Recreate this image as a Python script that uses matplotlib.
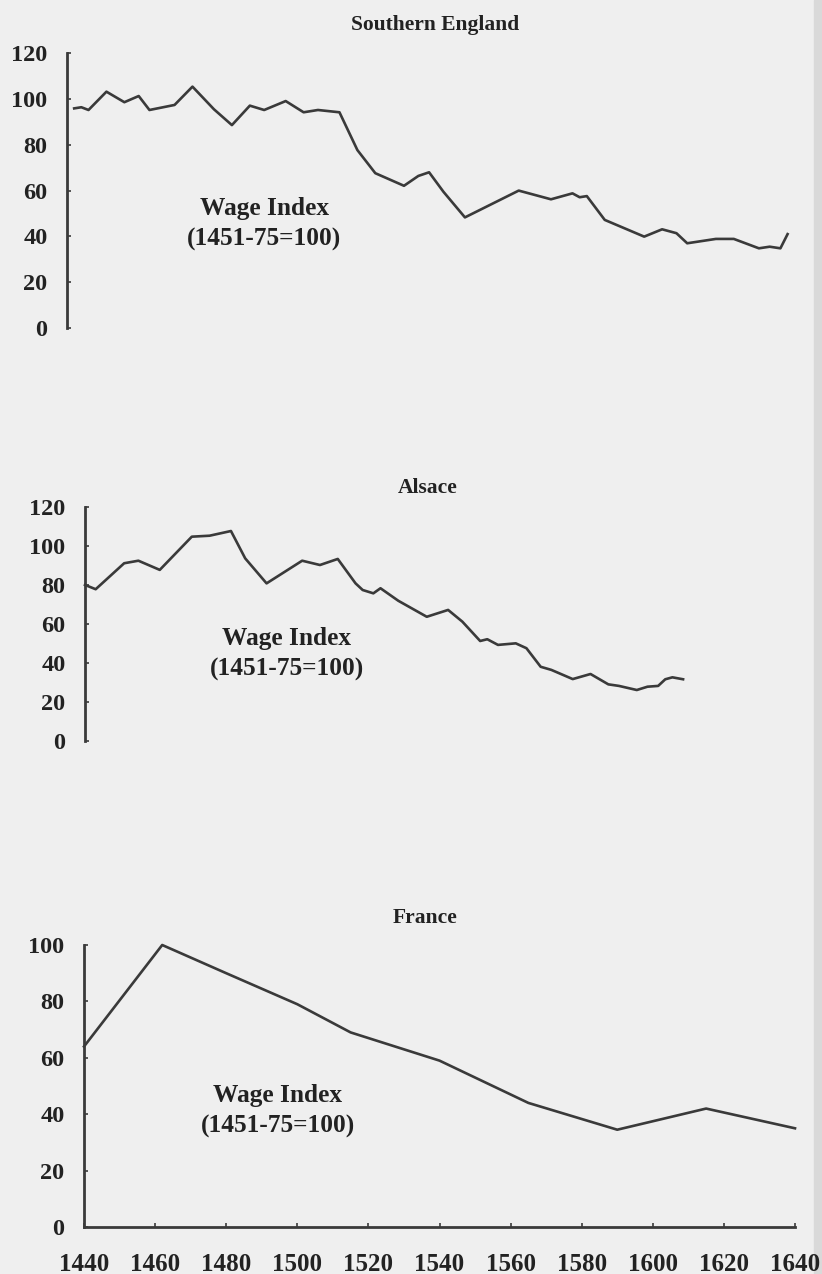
import matplotlib
matplotlib.use("Agg")
import matplotlib.pyplot as plt

# ============= data
england_years = [1441, 1443, 1445, 1450, 1455, 1459, 1462, 1469, 1474, 1480,
                 1485, 1490, 1494, 1500, 1505, 1509, 1515, 1520, 1525, 1533,
                 1537, 1540, 1544, 1550, 1565, 1574, 1580, 1582, 1584, 1589,
                 1600, 1605, 1609, 1612, 1620, 1625, 1632, 1635, 1638, 1640]
england_wage = [95.9, 96.4, 95.2, 103.2, 98.6, 101.3, 95.2, 97.4, 105.4, 95.5,
                88.6, 97.1, 95.2, 99.1, 94.2, 95.2, 94.2, 77.7, 67.6, 62.1,
                66.4, 68.0, 59.5, 48.3, 60.0, 56.2, 58.8, 57.1, 57.6, 47.2,
                39.9, 43.1, 41.4, 37.0, 38.9, 38.9, 34.8, 35.5, 34.8, 41.0]

alsace_years = [1440, 1443, 1451, 1455, 1461, 1470, 1475, 1481, 1485, 1491,
                1501, 1506, 1511, 1516, 1518, 1521, 1523, 1528, 1536, 1542,
                1546, 1551, 1553, 1556, 1561, 1564, 1568, 1571, 1577, 1582,
                1587, 1590, 1595, 1598, 1601, 1603, 1605, 1608]
alsace_wage = [79.9, 77.7, 91.0, 92.3, 87.6, 104.6, 105.1, 107.5, 93.5, 80.7,
               92.3, 90.1, 93.2, 80.7, 77.3, 75.6, 78.2, 71.8, 63.6, 67.1,
               61.1, 51.2, 52.1, 49.2, 50.0, 47.5, 38.0, 36.4, 31.7, 34.3,
               29.0, 28.2, 26.1, 27.8, 28.2, 31.6, 32.6, 31.6]

france_years = [1440, 1462, 1480, 1500, 1515, 1540, 1565, 1590, 1615, 1640]
france_wage = [64, 100, 90, 79, 69, 59, 44, 34.5, 42, 35]

y_ticks_top = [0, 20, 40, 60, 80, 100, 120]
y_ticks_bottom = [0, 20, 40, 60, 80, 100]
x_ticks = [1440, 1460, 1480, 1500, 1520, 1540, 1560, 1580, 1600, 1620, 1640]
index_label = "Wage Index\n(1451-75=100)"

# ============= taille
my_dpi = 100
W, H = 822, 1274
bg = "#efefef"
ink = "#3a3a3a"
font = "Liberation Serif"
TICK_SIZE = 17.5
XTICK_SIZE = 18
TITLE_SIZE = 15.5
LABEL_SIZE = 18.3
line_width = 1.9

fig = plt.figure(figsize=(W / my_dpi, H / my_dpi), dpi=my_dpi)
fig.patch.set_facecolor(bg)


def px_axes(left, right, bottom, top):
  # pixel box -> figure fraction
  return fig.add_axes([left / W, 1 - bottom / H, (right - left) / W, (bottom - top) / H])


def style_axes(ax, show_x):
  ax.set_facecolor("none")
  for s in ["top", "right"]:
    ax.spines[s].set_visible(False)
  ax.spines["left"].set_color(ink)
  ax.spines["left"].set_linewidth(2.0)
  if show_x:
    ax.spines["bottom"].set_color(ink)
    ax.spines["bottom"].set_linewidth(2.0)
  else:
    ax.spines["bottom"].set_visible(False)
    ax.set_xticks([])
  ax.tick_params(axis="both", direction="in", length=3, width=1.2, color=ink,
                 labelsize=TICK_SIZE, labelcolor="#222222", pad=14)
  for lab in ax.get_yticklabels() + ax.get_xticklabels():
    lab.set_fontfamily(font)
    lab.set_fontweight("bold")


def add_label(ax, x, y):
  ax.text(x, y, index_label, ha="center", va="center", multialignment="center",
          fontsize=LABEL_SIZE, family=font, fontweight="bold", color="#222222",
          linespacing=1.45)


# Southern England
ax1 = px_axes(67, 790, 328, 53.2)
ax1.plot(england_years, england_wage, color=ink, linewidth=line_width, clip_on=False)
ax1.set_xlim(1439, 1439 + 723 / 3.585)
ax1.set_ylim(0, 120)
ax1.set_yticks(y_ticks_top)
style_axes(ax1, False)
add_label(ax1, 1494, 45.4)

# Alsace
ax2 = px_axes(85, 790, 741, 506.6)
ax2.plot(alsace_years, alsace_wage, color=ink, linewidth=line_width, clip_on=False)
ax2.set_xlim(1440, 1440 + 705 / 3.56)
ax2.set_ylim(0, 120)
ax2.set_yticks(y_ticks_top)
style_axes(ax2, False)
add_label(ax2, 1496.7, 44.5)

# France
ax3 = px_axes(84, 795, 1227, 945)
ax3.plot(france_years, france_wage, color=ink, linewidth=line_width, clip_on=False)
ax3.set_xlim(1440, 1640)
ax3.set_ylim(0, 100)
ax3.set_yticks(y_ticks_bottom)
ax3.set_xticks(x_ticks)
style_axes(ax3, True)
ax3.tick_params(axis="x", pad=19, labelsize=XTICK_SIZE)
add_label(ax3, 1494.5, 41.1)

# titres
for name, x, y in [("Southern England", 435, 25), ("Alsace", 428, 488), ("France", 425, 918)]:
  fig.text(x / W, 1 - y / H, name, ha="center", va="center", fontsize=TITLE_SIZE,
           family=font, fontweight="bold", color="#222222")

# page edge on the right of the scan
fig.patches.append(plt.Rectangle((814 / W, 0), 8 / W, 1, transform=fig.transFigure,
                                 color="#d9d9d9", zorder=-1))

plt.savefig("out.png", dpi=my_dpi, facecolor=bg)
